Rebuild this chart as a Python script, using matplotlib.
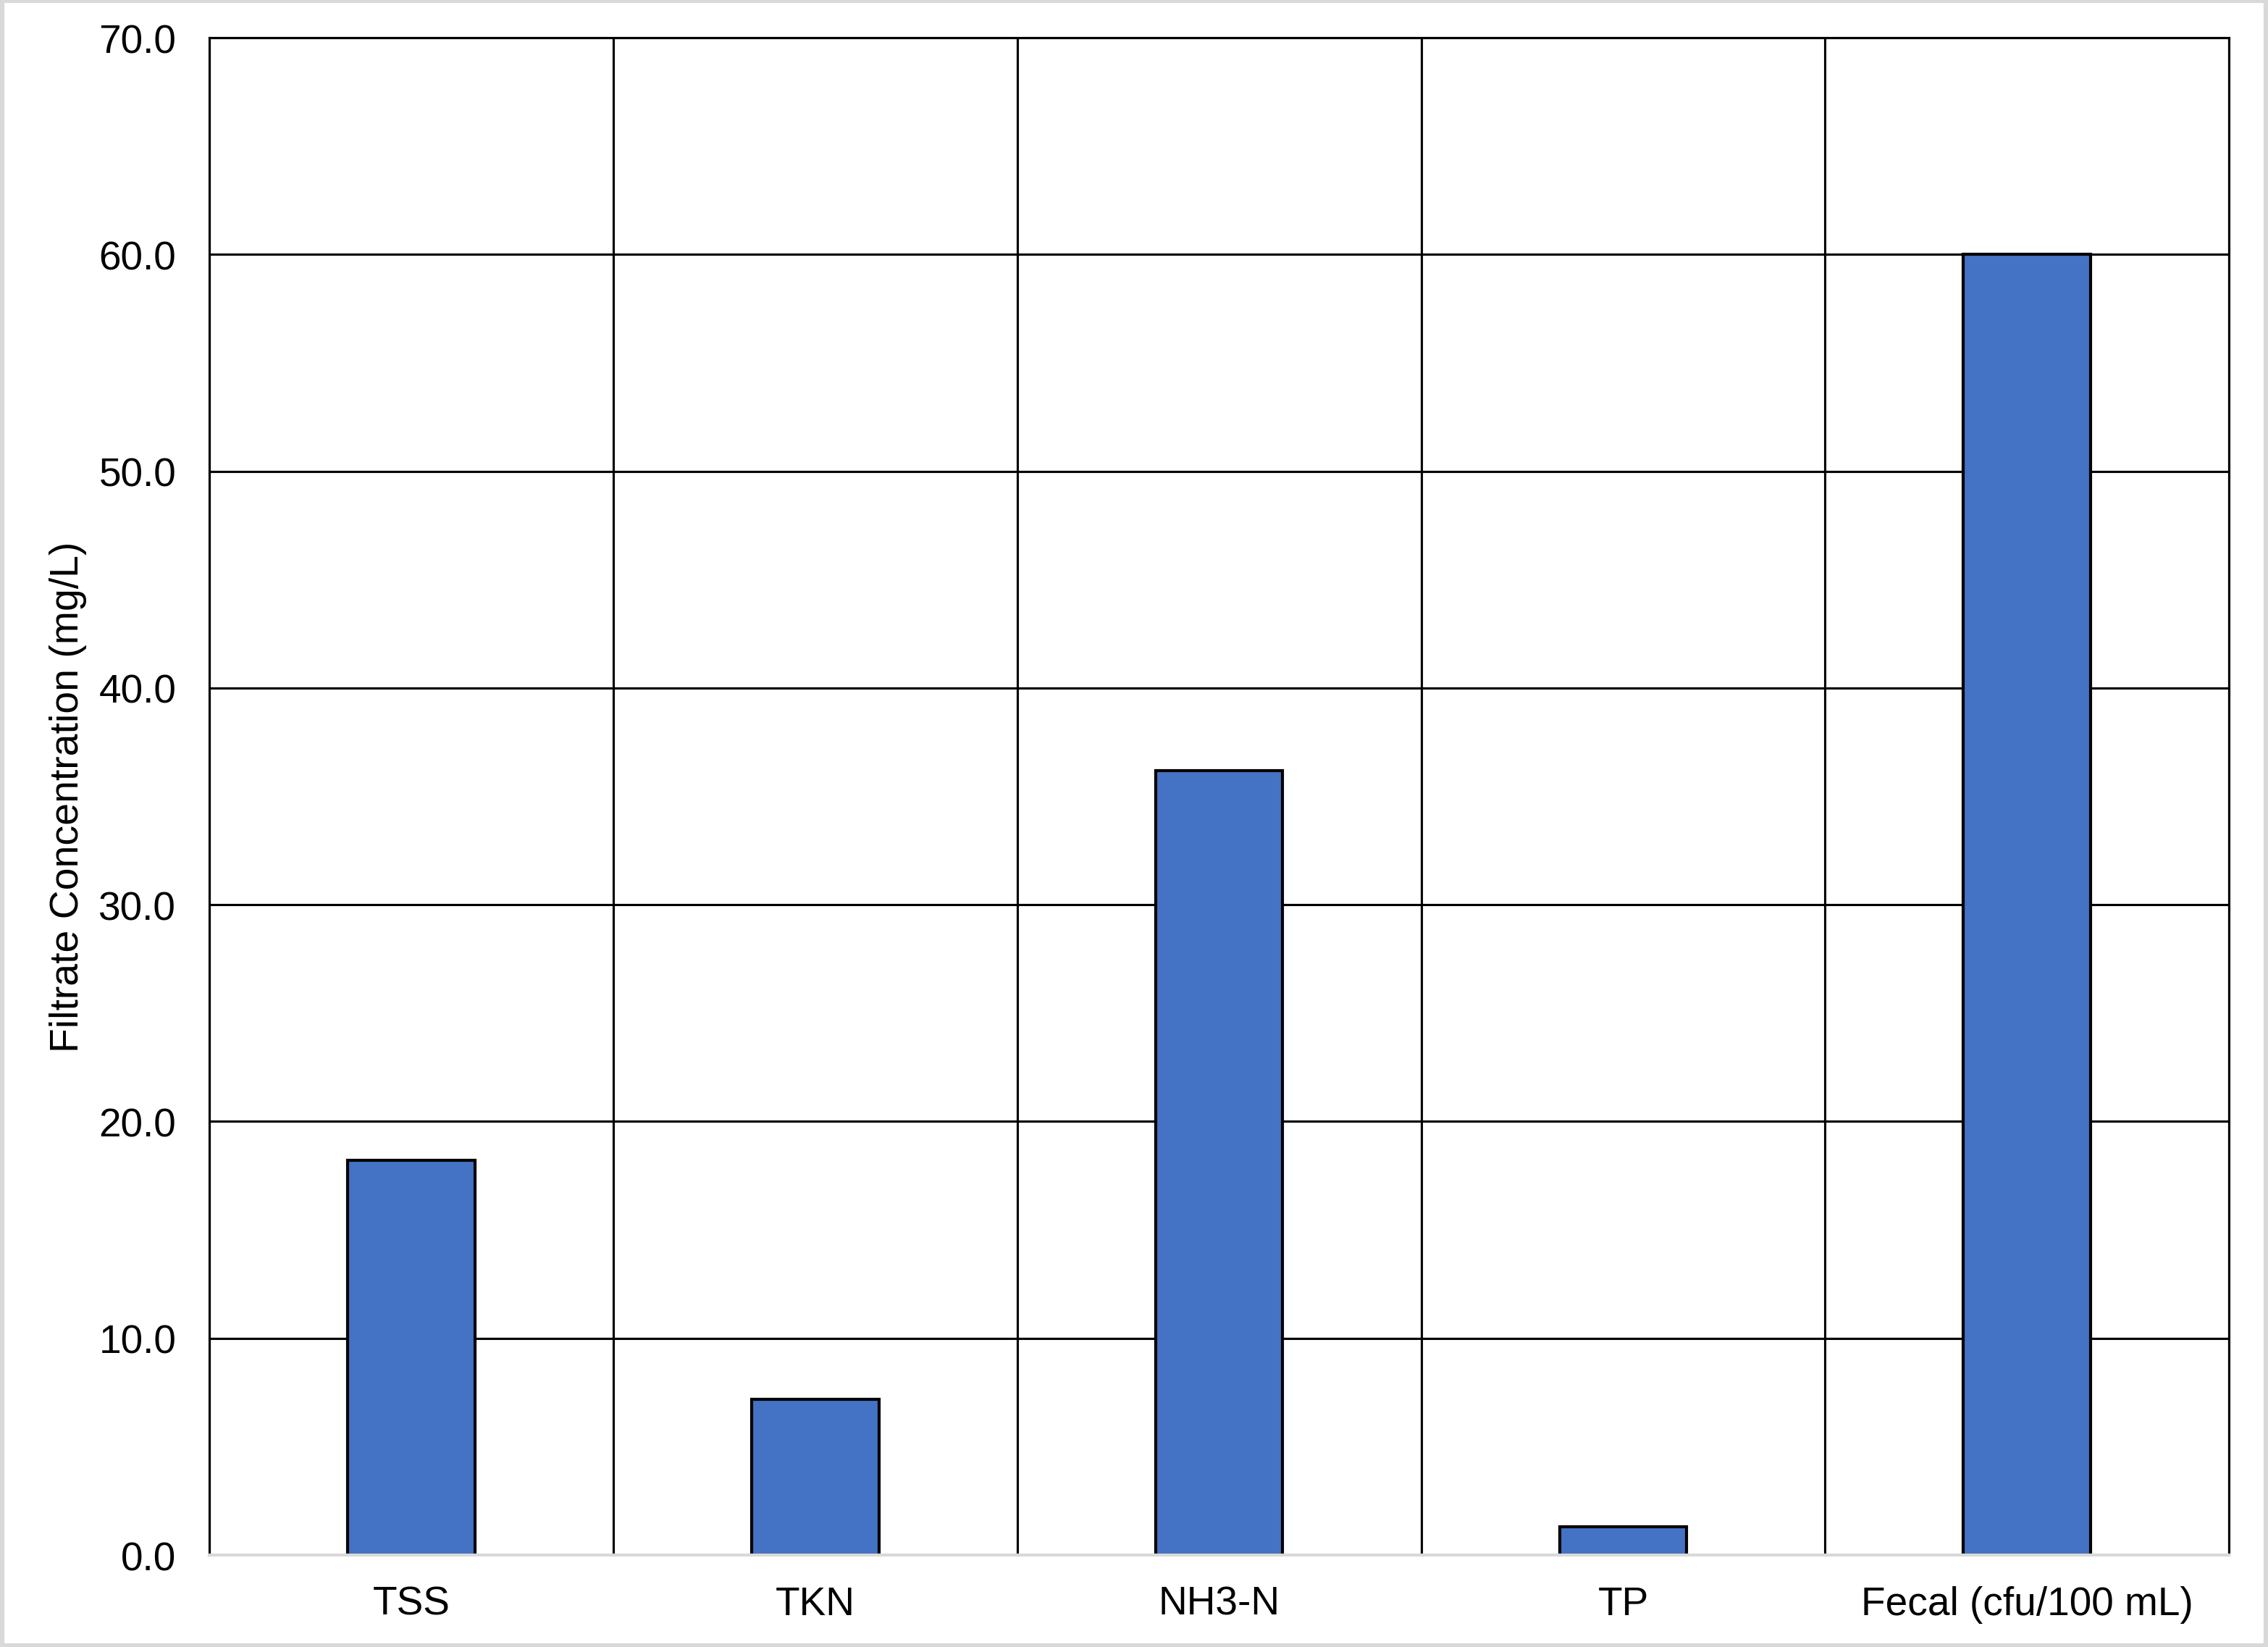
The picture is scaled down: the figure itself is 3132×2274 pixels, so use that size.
import matplotlib
matplotlib.use('Agg')
import matplotlib.pyplot as plt
from matplotlib.patches import Rectangle
import numpy as np

# data
categories = ['TSS', 'TKN', 'NH3-N', 'TP', 'Fecal (cfu/100 mL)']
values = [18.2, 7.2, 36.2, 1.3, 60.0]
y_ticks = [0, 10, 20, 30, 40, 50, 60, 70]

plt.rcParams['font.family'] = ['Liberation Sans', 'DejaVu Sans']

fig = plt.figure(figsize=(10.44, 7.5833), dpi=300)
ax = fig.add_axes([0.0923, 0.0558, 0.9828 - 0.0923, 0.9767 - 0.0558])

x = np.arange(len(categories))
ax.bar(x, values, width=0.315, color='#4472C4', edgecolor='black',
       linewidth=1.0, zorder=3)

ax.set_xlim(-0.5, len(categories) - 0.5)
ax.set_ylim(0, 70)
ax.set_yticks(y_ticks)
ax.set_yticklabels([f'{v:.1f}' for v in y_ticks])
ax.set_xticks(x)
ax.set_xticklabels(categories)
ax.set_xticks(np.arange(len(categories) + 1) - 0.5, minor=True)

ax.grid(axis='y', which='major', color='black', linewidth=0.75, zorder=0)
ax.grid(axis='x', which='minor', color='black', linewidth=0.75, zorder=0)
ax.tick_params(axis='both', which='both', length=0, labelsize=13.2)
ax.tick_params(axis='y', pad=11)
ax.tick_params(axis='x', pad=10)

for side in ['left', 'top', 'right']:
    ax.spines[side].set_color('black')
    ax.spines[side].set_linewidth(0.75)
ax.spines['bottom'].set_color('#d9d9d9')
ax.spines['bottom'].set_linewidth(1.0)
ax.spines['bottom'].set_zorder(4)

ax.set_ylabel('Filtrate Concentration (mg/L)', fontsize=13.3, labelpad=4)

# light grey frame around the whole figure
fig.patches.append(Rectangle((0.001, 0.001), 0.998, 0.998, transform=fig.transFigure,
                             fill=False, edgecolor='#d9d9d9', linewidth=1.5))

fig.savefig('out.png', dpi=300, facecolor='white')
